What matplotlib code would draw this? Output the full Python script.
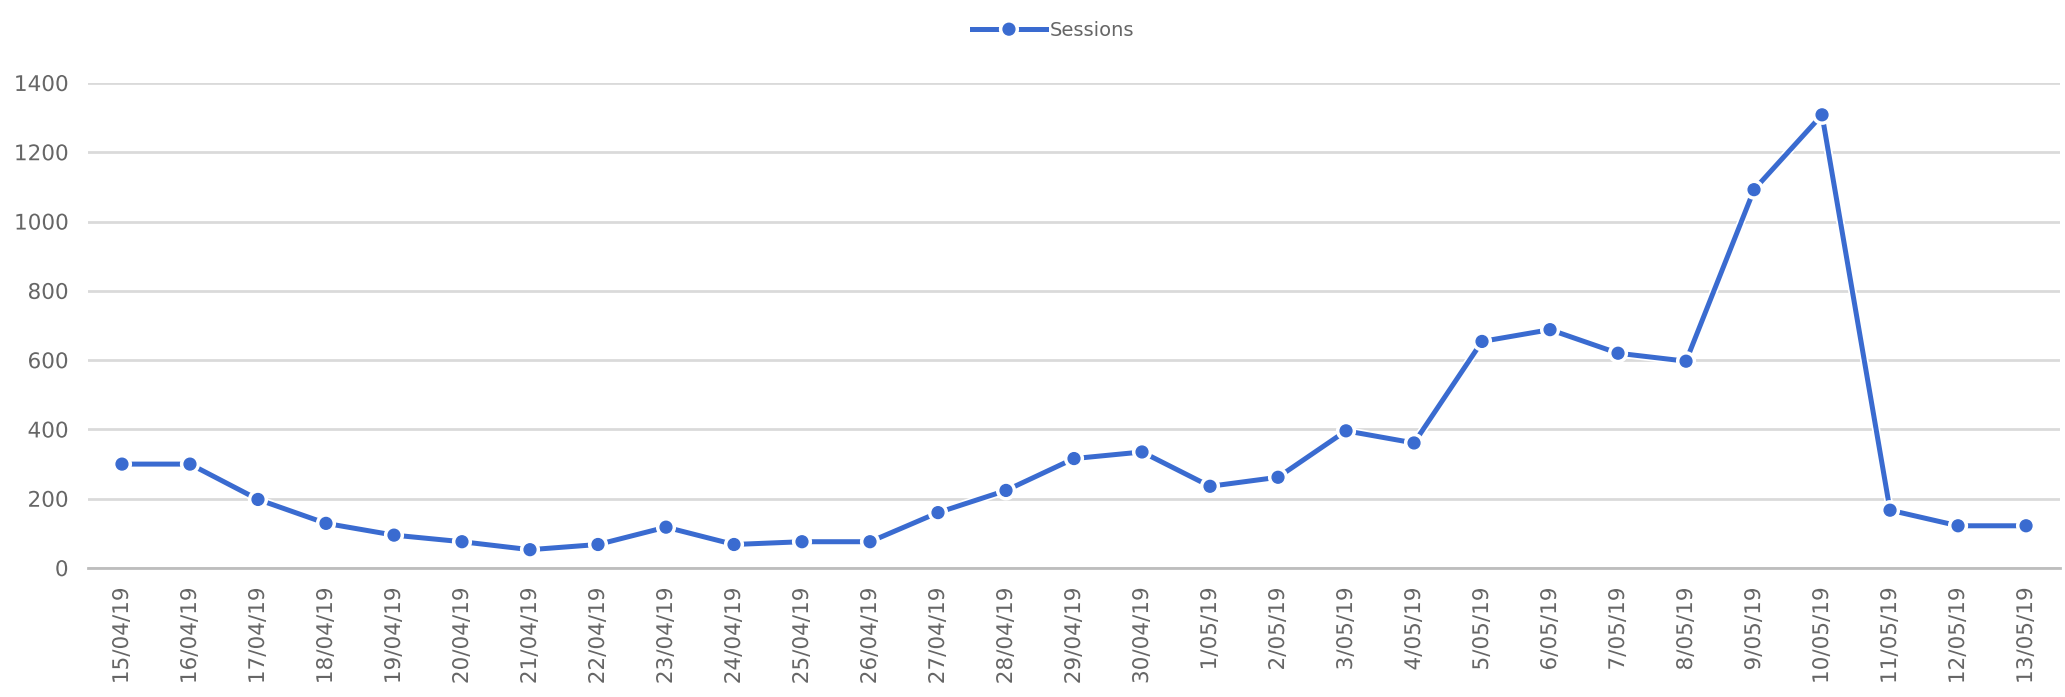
import matplotlib
matplotlib.use("Agg")
import matplotlib.pyplot as plt
import matplotlib.patheffects as pe

dates = ["15/04/19", "16/04/19", "17/04/19", "18/04/19", "19/04/19", "20/04/19",
         "21/04/19", "22/04/19", "23/04/19", "24/04/19", "25/04/19", "26/04/19",
         "27/04/19", "28/04/19", "29/04/19", "30/04/19", "1/05/19", "2/05/19",
         "3/05/19", "4/05/19", "5/05/19", "6/05/19", "7/05/19", "8/05/19",
         "9/05/19", "10/05/19", "11/05/19", "12/05/19", "13/05/19"]
sessions = [300, 300, 198, 129, 95, 76, 53, 68, 118, 68, 76, 76, 160, 224, 316, 335,
            236, 262, 396, 361, 654, 688, 620, 597, 1092, 1308, 167, 122, 122]
y_ticks = [0, 200, 400, 600, 800, 1000, 1200, 1400]

blue = "#3a6bd0"
grey_txt = "#666666"
halo = [pe.withStroke(linewidth=3, foreground="white")]

fig = plt.figure(figsize=(20.65, 6.97), dpi=100)
ax = fig.add_axes([0.0426, 0.185, 0.955, 0.696])

x = list(range(len(dates)))
ax.plot(x, sessions, color=blue, linewidth=3.6, marker="o", markersize=8.5,
        label="Sessions", zorder=3,
        path_effects=[pe.Stroke(linewidth=6, foreground="white"), pe.Normal()])

ax.set_xlim(-0.5, len(dates) - 0.5)
ax.set_ylim(0, 1400)
ax.set_yticks(y_ticks)
ax.set_xticks(x)
ax.set_xticklabels(dates, rotation=90)

for s in ["top", "right", "left"]:
    ax.spines[s].set_visible(False)
ax.spines["bottom"].set_color("#bdbdbd")
ax.spines["bottom"].set_linewidth(2)
ax.yaxis.grid(True, color="#dadada", linewidth=2)
ax.set_axisbelow(True)
ax.tick_params(axis="both", length=0, labelsize=15.5, colors=grey_txt)
ax.tick_params(axis="x", pad=14)
ax.tick_params(axis="y", pad=14)
for lab in ax.get_xticklabels() + ax.get_yticklabels():
    lab.set_path_effects(halo)

leg = fig.legend(loc="upper center", bbox_to_anchor=(0.51, 0.995), frameon=False,
                 fontsize=14, handlelength=3.8, handletextpad=0.2)
for t in leg.get_texts():
    t.set_color(grey_txt)

fig.savefig("out.png", dpi=100, facecolor="white")
